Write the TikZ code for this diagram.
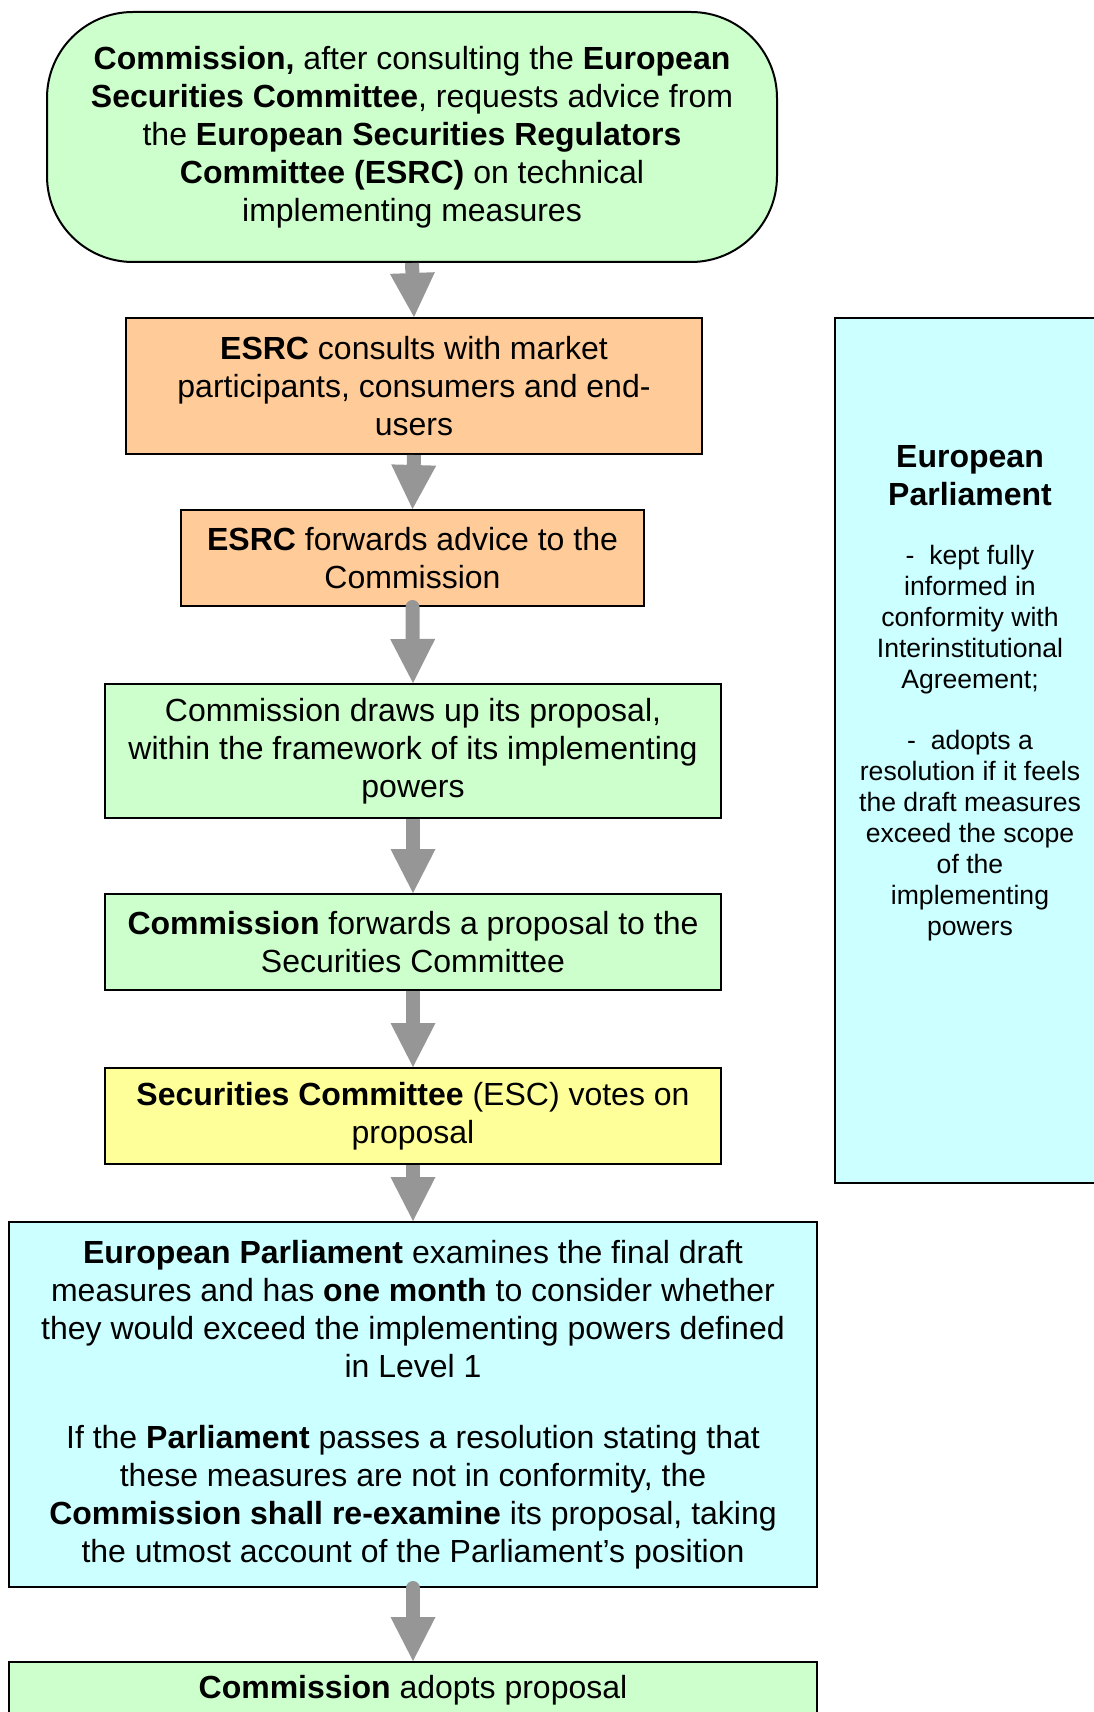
\documentclass[tikz,border=0pt]{standalone}
\usepackage{fontspec}
\setmainfont{Liberation Sans}
\usepackage[HTML]{xcolor}
\usepackage{tikz}
\usetikzlibrary{arrows.meta}

\definecolor{stepgreen}{HTML}{CCFFCC}
\definecolor{steporange}{HTML}{FFCC99}
\definecolor{stepyellow}{HTML}{FFFF99}
\definecolor{stepcyan}{HTML}{CCFFFF}
\definecolor{flowgray}{HTML}{969696}

\begin{document}
\begin{tikzpicture}[x=0.5pt, y=-0.5pt,
  box/.style={draw=black, line width=1pt, align=center, inner sep=0pt,
    font=\fontsize{16}{19}\selectfont},
  flow/.style={draw=flowgray, line width=7pt,
    -{Triangle[width=22.5pt, length=22pt, line width=0pt]}},
  flowround/.style={flow, line cap=round},
  sidetext/.style={align=center, inner sep=0pt, font=\fontsize{13.3}{15.5}\selectfont}]
\useasboundingbox (0,0) rectangle (1093,1712);

% Right-hand panel (drawn first)
\node[box, fill=stepcyan, minimum width=135pt, minimum height=432.5pt] (ep) at (970,750.5) {};
\node[box, draw=none, font=\fontsize{16}{19}\selectfont\bfseries] (eptitle) at (970,475.5)
  {European\\Parliament};
\node[sidetext] (epbody) at (970,743.5)
  {-\ \ kept fully\\ informed in\\ conformity with\\ Interinstitutional\\ Agreement;\\[15pt]
   -\ \ adopts a\\ resolution if it feels\\ the draft measures\\ exceed the scope\\ of the\\
   implementing\\ powers};

% Main flow
\node[box, fill=stepgreen, rounded corners=43pt, minimum width=365pt, minimum height=125pt] (request) at (412,137)
  {\textbf{Commission,} after consulting the \textbf{European}\\
   \textbf{Securities Committee}, requests advice from\\
   the \textbf{European Securities Regulators}\\
   \textbf{Committee (ESRC)} on technical\\
   implementing measures};

\node[box, fill=steporange, minimum width=288pt, minimum height=68pt] (consult) at (414,386)
  {\textbf{ESRC} consults with market\\ participants, consumers and end-\\ users};

\node[box, fill=steporange, minimum width=231.5pt, minimum height=48pt] (advice) at (412.5,558)
  {\textbf{ESRC} forwards advice to the\\ Commission};

\node[box, fill=stepgreen, minimum width=308pt, minimum height=67pt] (draft) at (413,751)
  {Commission draws up its proposal,\\ within the framework of its implementing\\ powers};

\node[box, fill=stepgreen, minimum width=308pt, minimum height=48pt] (forward) at (413,942)
  {\textbf{Commission} forwards a proposal to the\\ Securities Committee};

\node[box, fill=stepyellow, minimum width=308pt, minimum height=48pt] (vote) at (413,1116)
  {\textbf{Securities Committee} (ESC) votes on\\ proposal};

\node[box, fill=stepcyan, minimum width=404pt, minimum height=182.5pt] (examine) at (413,1404.5)
  {\textbf{European Parliament} examines the final draft\\
   measures and has \textbf{one month} to consider whether\\
   they would exceed the implementing powers defined\\
   in Level 1\\[16.5pt]
   If the \textbf{Parliament} passes a resolution stating that\\
   these measures are not in conformity, the\\
   \textbf{Commission shall re-examine} its proposal, taking\\
   the utmost account of the Parliament’s position};

\node[box, fill=stepgreen, minimum width=404pt, minimum height=28pt] (adopt) at (413,1690)
  {\textbf{Commission} adopts proposal};

% Arrows
\draw[flow] (request.south) -- (consult.north);
\draw[flow] (consult.south) -- (advice.north);
\draw[flowround] (advice.south) -- (draft.north);
\draw[flow] (draft.south) -- (forward.north);
\draw[flow] (forward.south) -- (vote.north);
\draw[flow] (vote.south) -- (examine.north);
\draw[flowround] (examine.south) -- (adopt.north);

\end{tikzpicture}
\end{document}
